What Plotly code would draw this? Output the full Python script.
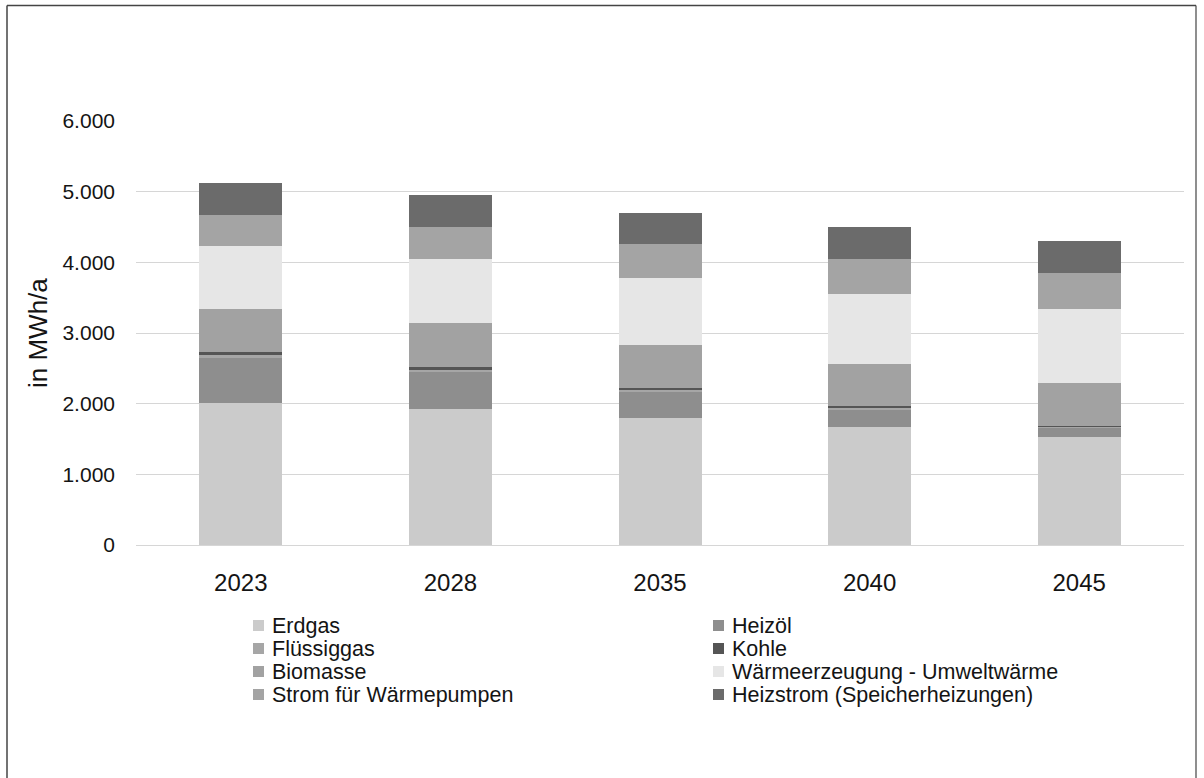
import plotly.graph_objects as go

years = ["2023", "2028", "2035", "2040", "2045"]
erdgas = [2010, 1925, 1793, 1666, 1524]
heizoel = [640, 520, 377, 249, 136]
fluessiggas = [45, 45, 30, 25, 15]
kohle = [30, 28, 24, 20, 15]
biomasse = [620, 621, 612, 604, 599]
umweltwaerme = [884, 902, 946, 991, 1044]
strom_wp = [443, 458, 472, 496, 520]
heizstrom = [444, 449, 443, 448, 443]

series_names = ["Erdgas", "Heizöl", "Flüssiggas", "Kohle", "Biomasse",
                "Wärmeerzeugung - Umweltwärme", "Strom für Wärmepumpen",
                "Heizstrom (Speicherheizungen)"]
series_values = [erdgas, heizoel, fluessiggas, kohle, biomasse,
                 umweltwaerme, strom_wp, heizstrom]
colors = ["#cbcbcb", "#8e8e8e", "#a6a6a6", "#555555", "#a2a2a2",
          "#e6e6e6", "#a4a4a4", "#6b6b6b"]

y_ticks = [0, 1000, 2000, 3000, 4000, 5000, 6000]
y_tick_labels = ["0", "1.000", "2.000", "3.000", "4.000", "5.000", "6.000"]

W, H = 1204, 778
L, R, T, B = 136, 20, 121, 233
PW, PH = W - L - R, H - T - B


def px(xp):
    return (xp - L) / PW


def py(yp):
    return (H - B - yp) / PH


fig = go.Figure()
for name, vals, col in zip(series_names, series_values, colors):
    fig.add_trace(go.Bar(x=years, y=vals, name=name, marker_color=col,
                         marker_line_width=0, showlegend=False))

font_family = "Liberation Sans, Arial, sans-serif"
txt_col = "#141414"

fig.update_layout(
    width=W, height=H, barmode="stack", bargap=0.604,
    margin=dict(l=L, r=R, t=T, b=B, pad=0),
    paper_bgcolor="white", plot_bgcolor="white",
    font=dict(family=font_family, color=txt_col),
    xaxis=dict(type="category", showgrid=False, showline=False, ticks="",
               tickfont=dict(size=24, color=txt_col), ticklabelstandoff=21),
    yaxis=dict(range=[0, 6000], tickvals=y_ticks, ticktext=y_tick_labels,
               showgrid=True, gridcolor="#d6d6d6", gridwidth=1,
               zeroline=True, zerolinecolor="#d6d6d6", zerolinewidth=1,
               showline=False, ticks="", ticklabelstandoff=20,
               tickfont=dict(size=21, color=txt_col)),
)

annotations = [dict(text="in MWh/a", x=px(38), y=py(333), xref="paper", yref="paper",
                    textangle=-90, showarrow=False, xanchor="center", yanchor="middle",
                    font=dict(size=26, color=txt_col, family=font_family))]
shapes = []

# legend drawn manually (two columns, row-wise order)
col_x = [(253, 271), (713, 731)]
row_y = [625.5, 648.5, 671.5, 694.5]
for i, (name, col) in enumerate(zip(series_names, colors)):
    c = i % 2
    r = i // 2
    mx, tx = col_x[c]
    cy = row_y[r]
    shapes.append(dict(type="rect", xref="paper", yref="paper",
                       x0=px(mx), x1=px(mx + 11), y0=py(cy + 5.5), y1=py(cy - 5.5),
                       fillcolor=col, line=dict(width=0)))
    annotations.append(dict(text=name, x=px(tx), y=py(cy), xref="paper", yref="paper",
                            showarrow=False, xanchor="left", yanchor="middle",
                            borderpad=0,
                            font=dict(size=21.5, color=txt_col, family=font_family)))

# outer frame
frame_col = "#444444"
shapes.append(dict(type="line", xref="paper", yref="paper", x0=px(7), x1=px(1196),
                   y0=py(5.5), y1=py(5.5), line=dict(color=frame_col, width=1.5)))
shapes.append(dict(type="line", xref="paper", yref="paper", x0=px(7), x1=px(7),
                   y0=py(5.5), y1=py(778), line=dict(color=frame_col, width=1.5)))
shapes.append(dict(type="line", xref="paper", yref="paper", x0=px(1196), x1=px(1196),
                   y0=py(5.5), y1=py(778), line=dict(color=frame_col, width=1.2)))

fig.update_layout(annotations=annotations, shapes=shapes)

fig.write_html("out.html")
